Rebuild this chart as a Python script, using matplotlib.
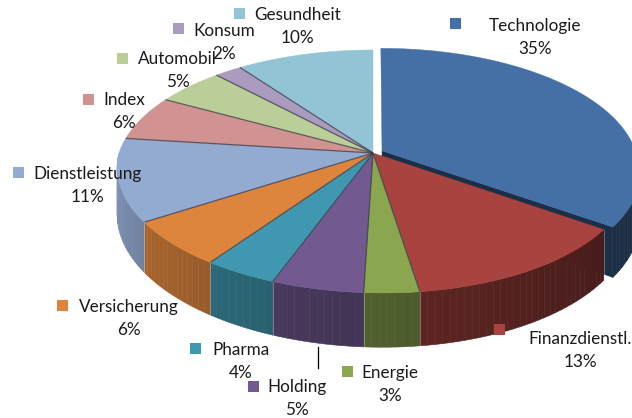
import numpy as np
import matplotlib
matplotlib.use("Agg")
import matplotlib.pyplot as plt
from matplotlib.patches import Polygon, Rectangle

categories = ["Technologie", "Finanzdienstl.", "Energie", "Holding", "Pharma",
              "Versicherung", "Dienstleistung", "Index", "Automobil", "Konsum", "Gesundheit"]
values = [35, 13, 3, 5, 4, 6, 11, 6, 5, 2, 10]
colors = ["#4470A6", "#A9433F", "#8AA64F", "#725A91", "#3F98AF",
          "#DD853D", "#93AAD1", "#D19392", "#BACE98", "#AA9BBF", "#93C4D6"]
labels_pct = [f"{v}%" for v in values]

# label layout (pixel coords): square left x, square center y, text center x, name baseline
label_layout = {
    "Technologie":    (450, 23.5, 535, 31),
    "Finanzdienstl.": (494, 329.5, 580, 344),
    "Energie":        (342, 371, 390, 378),
    "Holding":        (248, 386, 297, 392),
    "Pharma":         (190, 348.5, 241, 355),
    "Versicherung":   (57, 305.5, 129, 312),
    "Dienstleistung": (13, 172, 87.5, 179),
    "Index":          (83, 99, 124, 105),
    "Automobil":      (117, 58.5, 177.5, 64),
    "Konsum":         (173, 28.5, 224, 36),
    "Gesundheit":     (234, 13.5, 297.5, 20),
}

W, H = 632, 418
fig = plt.figure(figsize=(W / 100, H / 100), dpi=100)
ax = fig.add_axes([0, 0, 1, 1])
ax.set_xlim(0, W)
ax.set_ylim(H, 0)
ax.axis("off")

x0, y0 = 373.0, 153.0
A, B = 254.0, 118.7
p = 0.152
skew = 8.0
D = 46.0


def proj(t_deg, r=1.0, z=0.0, off=(0.0, 0.0)):
    t = np.radians(t_deg)
    X = r * np.sin(t) + off[0]
    Y = -r * np.cos(t) + off[1]
    k = 1.0 / (1.0 - p * Y)
    sx = x0 + (A * X + skew * max(Y, 0.0)) * k
    sy = y0 + (B * Y + D * z) * k
    return sx, sy


def shade(c, f):
    rgb = np.array(matplotlib.colors.to_rgb(c))
    return tuple(np.clip(rgb * f, 0, 1))


def side_factor(t):
    s = np.clip((t - 90) / 180.0, 0, 1)
    return 0.36 + 0.52 * s ** 1.3


total = float(sum(values))
bounds = np.concatenate([[0], np.cumsum(values)]) / total * 360.0
explode = [0.04] + [0.0] * (len(values) - 1)


def offset(i):
    mid = np.radians((bounds[i] + bounds[i + 1]) / 2)
    e = explode[i]
    return (e * np.sin(mid), -e * np.cos(mid))


def draw_side(i):
    t1, t2 = bounds[i], bounds[i + 1]
    a, b = max(t1, 90), min(t2, 270)
    if a >= b:
        return
    off = offset(i)
    n = max(2, int((b - a) / 1.5) + 1)
    ts = np.linspace(a, b, n)
    for j in range(n - 1):
        ta, tb = ts[j], ts[j + 1]
        pts = [proj(ta, off=off), proj(tb, off=off),
               proj(tb, z=1, off=off), proj(ta, z=1, off=off)]
        col = shade(colors[i], side_factor((ta + tb) / 2))
        ax.add_patch(Polygon(pts, closed=True, facecolor=col, edgecolor=col,
                             lw=0.4, zorder=2))


def draw_top(i, z=3):
    t1, t2 = bounds[i], bounds[i + 1]
    off = offset(i)
    ts = np.linspace(t1, t2, max(3, int((t2 - t1) / 1.0) + 2))
    pts = [proj(0, r=0, off=off)] + [proj(t, off=off) for t in ts]
    ax.add_patch(Polygon(pts, closed=True, facecolor=colors[i], edgecolor=colors[i],
                         lw=0.3, zorder=z))


def draw_radial_face(i, t):
    off = offset(i)
    pts = [proj(0, r=0, off=off), proj(t, off=off),
           proj(t, z=1, off=off), proj(0, r=0, z=1, off=off)]
    col = shade(colors[i], 0.42)
    ax.add_patch(Polygon(pts, closed=True, facecolor=col, edgecolor=col, lw=0.4, zorder=2))


# exploded slice first
draw_side(0)
draw_radial_face(0, bounds[1])
draw_top(0, z=2.5)
for i in range(1, len(values)):
    draw_side(i)
for i in range(1, len(values)):
    draw_top(i)
# slice separator lines on top surface
for i in range(2, len(values)):
    t = bounds[i]
    xa, ya = proj(0, r=0)
    xb, yb = proj(t)
    ax.plot([xa, xb], [ya, yb], color="#3a3a48", lw=0.9, alpha=0.75, zorder=4,
            solid_capstyle="butt")
# separator on side walls
for i in range(1, len(values)):
    t = bounds[i]
    if 90 < t < 270:
        xa, ya = proj(t)
        xb, yb = proj(t, z=1)
        ax.plot([xa, xb], [ya, yb], color="#ffffff", lw=0.6, alpha=0.35, zorder=4)

# leader line for Holding
ax.plot([318, 318], [347, 368], color="#000000", lw=0.9, zorder=5)

font = ["Lato", "DejaVu Sans"]
fs = 12.3
for name, pct, col in zip(categories, labels_pct, colors):
    sx, sy, cx, base = label_layout[name]
    ax.add_patch(Rectangle((sx, sy - 5.5), 11, 11, facecolor=col, edgecolor="none", zorder=6))
    ax.text(cx, base, name, ha="center", va="baseline", fontsize=fs,
            family=font, color="#1a1a1a", zorder=7)
    ax.text(cx, base + 23, pct, ha="center", va="baseline", fontsize=fs,
            family=font, color="#1a1a1a", zorder=7)

fig.savefig("out.png", dpi=100)
